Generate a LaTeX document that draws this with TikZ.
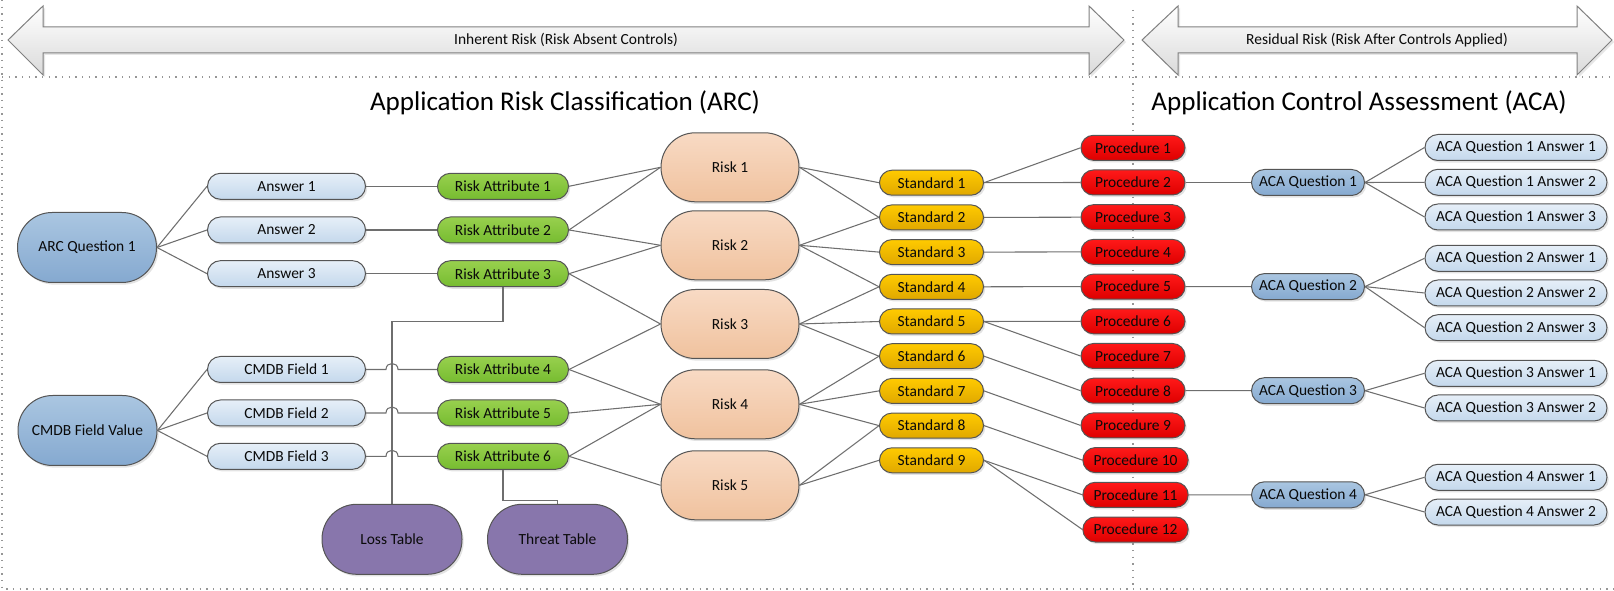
\documentclass[tikz,border=0pt]{standalone}
\usepackage{fontspec}
\setmainfont{Carlito}
\usetikzlibrary{shadows,calc}
\definecolor{linegray}{RGB}{110,110,110}
\definecolor{boxborder}{RGB}{85,85,85}
\definecolor{txt}{RGB}{10,10,10}
\definecolor{dotgray}{RGB}{150,150,150}
\definecolor{bluetop}{RGB}{170,198,225}
\definecolor{bluebot}{RGB}{133,169,208}
\definecolor{lbluetop}{RGB}{230,239,248}
\definecolor{lbluebot}{RGB}{196,216,236}
\definecolor{greentop}{RGB}{152,208,78}
\definecolor{greenbot}{RGB}{118,188,48}
\definecolor{peachtop}{RGB}{248,218,196}
\definecolor{peachbot}{RGB}{240,194,158}
\definecolor{goldtop}{RGB}{255,202,0}
\definecolor{goldbot}{RGB}{224,168,0}
\definecolor{redtop}{RGB}{255,25,25}
\definecolor{redbot}{RGB}{222,0,0}
\definecolor{purplefill}{RGB}{136,118,172}
\definecolor{arrowbot}{RGB}{218,218,218}
\pgfdeclarelayer{background}
\pgfsetlayers{background,main}
\begin{document}
\begin{tikzpicture}[x=0.75pt,y=-0.75pt,
  conn/.style={draw=linegray, line width=0.8pt},
  dotline/.style={draw=dotgray, line width=1pt, dash pattern=on 1pt off 4pt},
  bigarrow/.style={draw=gray, line width=0.75pt, top color=white, bottom color=arrowbot,
    drop shadow={shadow xshift=1.5pt, shadow yshift=-1.5pt, opacity=0.2}},
  lbl/.style={font=\fontsize{11.6}{13}\selectfont, text=txt, inner sep=1pt},
  ttl/.style={font=\fontsize{20.3}{24}\selectfont, text=black, inner sep=1pt},
  box/.style={draw=boxborder, line width=0.75pt, inner sep=0pt, text=txt,
    font=\fontsize{11.6}{13}\selectfont,
    drop shadow={shadow xshift=1.3pt, shadow yshift=-1.6pt, opacity=0.22}},
  smallbox/.style={box, minimum height=19.5pt, rounded corners=9.7pt},
  bigbox/.style={box, minimum width=104.25pt, minimum height=52.5pt, rounded corners=26pt},
  qbig/.style={bigbox, top color=bluetop, bottom color=bluebot},
  ansbox/.style={smallbox, minimum width=118.5pt, top color=lbluetop, bottom color=lbluebot},
  attrbox/.style={smallbox, minimum width=98.25pt, top color=greentop, bottom color=greenbot},
  riskbox/.style={box, minimum width=103.5pt, minimum height=51.75pt, rounded corners=25.8pt,
    top color=peachtop, bottom color=peachbot},
  stdbox/.style={smallbox, minimum width=78pt, minimum height=18.75pt, rounded corners=9.3pt,
    top color=goldtop, bottom color=goldbot},
  procbox/.style={smallbox, minimum width=78pt, minimum height=18.75pt, rounded corners=9.3pt,
    top color=redtop, bottom color=redbot},
  tablebox/.style={bigbox, minimum width=105pt, fill=purplefill},
  acaqbox/.style={smallbox, minimum width=84.75pt, top color=bluetop, bottom color=bluebot},
  acaabox/.style={smallbox, minimum width=136.5pt, top color=lbluetop, bottom color=lbluebot}
]
\useasboundingbox (0,0) rectangle (1614,591);

% ---- dotted frame lines
\begin{pgfonlayer}{background}
\draw[dotline] (2,0) -- (2,589) -- (1614,589);
\draw[dotline] (2,77) -- (1614,77);
\draw[dotline] (1133,10) -- (1133,589);
\end{pgfonlayer}

% ---- big double arrows
\draw[bigarrow] (8,40) -- (43,6) -- (43,27) -- (1089,27) -- (1089,6) -- (1124,40)
  -- (1089,75) -- (1089,53) -- (43,53) -- (43,75) -- cycle;
\draw[bigarrow] (1142,40) -- (1178,6) -- (1178,27) -- (1577,27) -- (1577,6) -- (1612,40)
  -- (1577,75) -- (1577,53) -- (1178,53) -- (1178,75) -- cycle;
\node[lbl] (inh) at (566,40) {Inherent Risk (Risk Absent Controls)};
\node[lbl] (res) at (1377,40) {Residual Risk (Risk After Controls Applied)};

% ---- titles
\node[ttl] (arct) at (565,103) {Application Risk Classification (ARC)};
\node[ttl] (acat) at (1359,103) {Application Control Assessment (ACA)};

% ---- left column
\node[qbig] (arc) at (87,247.5) {ARC Question 1};
\node[qbig] (cmdb) at (87.5,430.5) {CMDB Field Value};

\node[ansbox] (ans1) at (286.5,186.3) {Answer 1};
\node[ansbox] (ans2) at (286.5,230) {Answer 2};
\node[ansbox] (ans3) at (286.5,273.7) {Answer 3};
\node[ansbox] (fld1) at (286.5,369.5) {CMDB Field 1};
\node[ansbox] (fld2) at (286.5,413) {CMDB Field 2};
\node[ansbox] (fld3) at (286.5,456.3) {CMDB Field 3};

\node[attrbox] (ra1) at (503,186.3) {Risk Attribute 1};
\node[attrbox] (ra2) at (503,230) {Risk Attribute 2};
\node[attrbox] (ra3) at (503,273.7) {Risk Attribute 3};
\node[attrbox] (ra4) at (503,369.5) {Risk Attribute 4};
\node[attrbox] (ra5) at (503,413) {Risk Attribute 5};
\node[attrbox] (ra6) at (503,456.3) {Risk Attribute 6};

\node[tablebox] (loss) at (392,539.3) {Loss Table};
\node[tablebox] (threat) at (557.5,539.3) {Threat Table};

% ---- risks
\node[riskbox] (risk1) at (730,167.3) {Risk 1};
\node[riskbox] (risk2) at (730,245.3) {Risk 2};
\node[riskbox] (risk3) at (730,324) {Risk 3};
\node[riskbox] (risk4) at (730,404.3) {Risk 4};
\node[riskbox] (risk5) at (730,485.3) {Risk 5};

% ---- standards
\foreach \i in {1,...,9}
  \node[stdbox] (std\i) at (931.5,{182.7+(\i-1)*34.7}) {Standard \i};

% ---- procedures
\foreach \i in {1,...,9}
  \node[procbox] (proc\i) at (1133,{147.8+(\i-1)*34.7}) {Procedure \i};
\foreach \i in {10,11,12}
  \node[procbox, minimum width=79pt] (proc\i) at (1135.5,{147.8+(\i-1)*34.7}) {Procedure \i};

% ---- ACA questions
\node[acaqbox] (q1) at (1308,182.5) {ACA Question 1};
\node[acaqbox] (q2) at (1308,286.6) {ACA Question 2};
\node[acaqbox] (q3) at (1308,390.7) {ACA Question 3};
\node[acaqbox] (q4) at (1308,494.8) {ACA Question 4};

% ---- ACA answers
\node[acaabox] (a11) at (1516,147.5) {ACA Question 1 Answer 1};
\node[acaabox] (a12) at (1516,182.3) {ACA Question 1 Answer 2};
\node[acaabox] (a13) at (1516,217) {ACA Question 1 Answer 3};
\node[acaabox] (a21) at (1516,258.3) {ACA Question 2 Answer 1};
\node[acaabox] (a22) at (1516,293) {ACA Question 2 Answer 2};
\node[acaabox] (a23) at (1516,327.7) {ACA Question 2 Answer 3};
\node[acaabox] (a31) at (1516,373.3) {ACA Question 3 Answer 1};
\node[acaabox] (a32) at (1516,408) {ACA Question 3 Answer 2};
\node[acaabox] (a41) at (1516,477.3) {ACA Question 4 Answer 1};
\node[acaabox] (a42) at (1516,512) {ACA Question 4 Answer 2};

% ---- connectors
\begin{pgfonlayer}{background}
\foreach \i in {1,2,3} {
  \draw[conn] (arc.east) -- (ans\i.west);
  \draw[conn] (cmdb.east) -- (fld\i.west);
  \draw[conn] (ans\i.east) -- (ra\i.west);
}
\foreach \i/\j in {1/4,2/5,3/6}
  \draw[conn] (fld\i.east) -- (fld\i.east -| 386,0)
    .. controls +(0,-8) and +(0,-8) .. (fld\i.east -| 398,0) -- (ra\j.west);
\draw[conn] (ra3.south) -- ++(0,34.6) -| (loss.north);
\draw[conn] (ra6.south) -- ++(0,31) -| (threat.north);
\foreach \a/\r in {1/1,2/1,2/2,3/2,3/3,4/3,4/4,5/4,6/4,6/5}
  \draw[conn] (ra\a.east) -- (risk\r.west);
\foreach \r/\s in {1/1,1/2,2/2,2/3,2/4,3/4,3/5,3/6,4/6,4/7,4/8,5/8,5/9}
  \draw[conn] (risk\r.east) -- (std\s.west);
\foreach \s/\p in {1/1,1/2,2/3,3/4,4/5,5/6,5/7,6/8,7/9,8/10,9/11,9/12}
  \draw[conn] (std\s.east) -- (proc\p.west);
\foreach \p/\q in {2/1,5/2,8/3,11/4}
  \draw[conn] (proc\p.east) -- (q\q.west);
\foreach \q/\a in {1/11,1/12,1/13,2/21,2/22,2/23,3/31,3/32,4/41,4/42}
  \draw[conn] (q\q.east) -- (a\a.west);
\end{pgfonlayer}
\end{tikzpicture}
\end{document}
